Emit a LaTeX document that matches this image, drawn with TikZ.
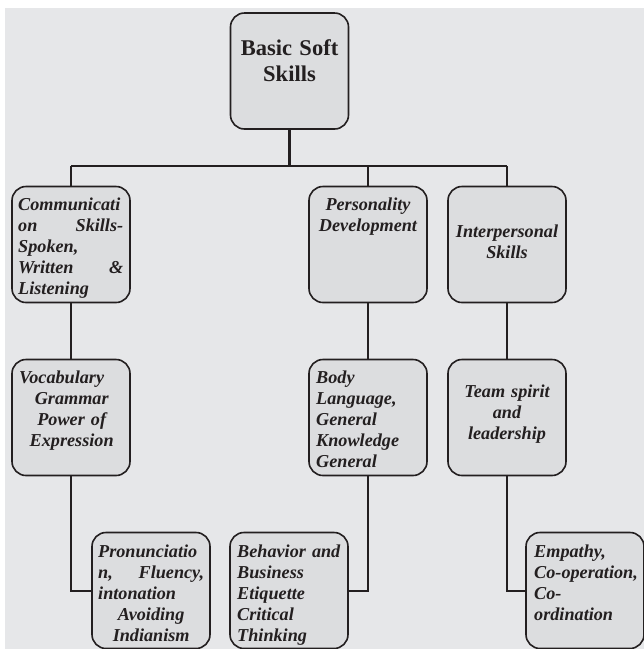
\documentclass[tikz,border=0pt]{standalone}
\usepackage{fontspec}
\setmainfont{Liberation Serif}
\definecolor{bggray}{HTML}{E6E7E9}
\definecolor{boxgray}{HTML}{DCDDDF}
\definecolor{ink}{HTML}{231F20}
\newcommand{\jfill}{\hspace{0pt plus 1filll}}
\newcommand{\padr}{\hspace{0pt plus 1filll}\mbox{}}

\begin{document}
\begin{tikzpicture}[x=1pt, y=-1pt,
  box/.style={draw=ink, fill=boxgray, line width=1.6pt, rounded corners=14pt,
    minimum width=118pt, minimum height=116pt, inner sep=0pt},
  lbl/.style={inner sep=0pt, text=ink, text width=106pt,
    font=\fontsize{18.2}{21}\selectfont\bfseries\itshape},
  link/.style={draw=ink, line width=2pt},
  bus/.style={draw=ink, line width=2.6pt}]
\useasboundingbox (0,0) rectangle (644,649);
\fill[bggray] (5,8) rectangle (644,649);

\node[box] (top) at (289.5,71) {};
\node[box] (comm) at (71,244.5) {};
\node[box] (pers) at (368,244.5) {};
\node[box] (inter) at (507,244.5) {};
\node[box] (vocab) at (71,417.5) {};
\node[box] (body) at (368,417.5) {};
\node[box] (team) at (507,417.5) {};
\node[box] (pron) at (151,590.5) {};
\node[box] (behav) at (289,590.5) {};
\node[box] (empat) at (585,590.5) {};

\node[inner sep=0pt, text=ink, text width=112pt, font=\fontsize{22.5}{26}\selectfont\bfseries,
  align=center, anchor=base] (top-t) at (289.5,55) {Basic Soft\\Skills};
\node[lbl, text width=105pt, align=left, anchor=base west] (comm-t) at (18,210.5)
  {Communicati\\on\jfill Skills-\\Spoken,\\Written\jfill \&\\Listening};
\node[lbl, align=center, anchor=base] (pers-t) at (368,210) {Personality\\Development};
\node[lbl, align=center, anchor=base] (inter-t) at (507,237) {Interpersonal\\Skills};
\node[lbl, text width=105pt, align=center, anchor=base west] (vocab-t) at (19,383)
  {Vocabulary\padr\\Grammar\\Power of\\Expression};
\node[lbl, align=left, anchor=base west] (body-t) at (316,383)
  {Body\\Language,\\General\\Knowledge\\General};
\node[lbl, align=center, anchor=base] (team-t) at (507,397) {Team spirit\\and\\leadership};
\node[lbl, align=center, anchor=base west] (pron-t) at (98,557)
  {Pronunciatio\padr\\n,\jfill Fluency,\\intonation\padr\\Avoiding\\Indianism};
\node[lbl, align=left, anchor=base west] (behav-t) at (237,557)
  {Behavior and\\Business\\Etiquette\\Critical\\Thinking};
\node[lbl, align=left, anchor=base west] (empat-t) at (534,557)
  {Empathy,\\Co-operation,\\Co-\\ordination};

\coordinate (hub) at (289.5,166);
\draw[ink, line width=3.2pt] (top.south) -- (hub);
\draw[bus] (comm.north |- hub) -- (inter.north |- hub);
\draw[link] (comm.north) -- (comm.north |- hub);
\draw[link] (pers.north) -- (pers.north |- hub);
\draw[link] (inter.north) -- (inter.north |- hub);
\draw[link] (comm) -- (vocab);
\draw[link] (pers) -- (body);
\draw[link] (inter) -- (team);
\draw[link] (vocab.south) |- (pron.west);
\draw[link] (body.south) |- (behav.east);
\draw[link] (team.south) |- (empat.west);
\end{tikzpicture}
\end{document}
